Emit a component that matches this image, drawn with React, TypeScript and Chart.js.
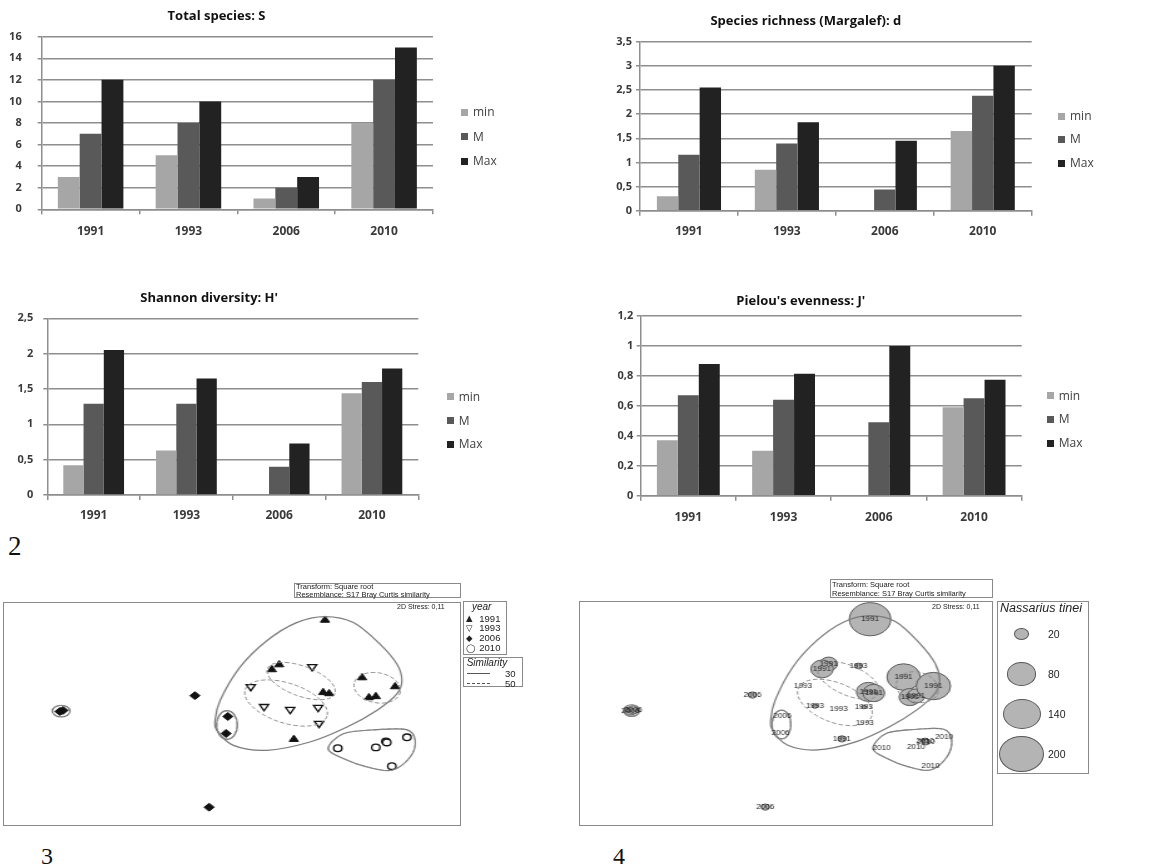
import React, { useEffect, useRef } from 'react';
import { Chart, registerables } from 'chart.js';

Chart.register(...registerables);
Chart.defaults.font.family = '"Open Sans", "Liberation Sans", sans-serif';

// ---------------- Bar chart data ----------------
const CATEGORIES = ['1991', '1993', '2006', '2010'];
const SERIES_NAMES = ['min', 'M', 'Max'];
const SERIES_COLORS = ['#a6a6a6', '#595959', '#222222'];

const S_MIN = [3, 5, 1, 8];
const S_M = [7, 8, 2, 12];
const S_MAX = [12, 10, 3, 15];

const D_MIN = [0.3, 0.85, 0, 1.65];
const D_M = [1.16, 1.39, 0.44, 2.38];
const D_MAX = [2.55, 1.83, 1.45, 3.0];

const H_MIN = [0.42, 0.63, 0, 1.44];
const H_M = [1.29, 1.29, 0.4, 1.6];
const H_MAX = [2.05, 1.65, 0.73, 1.79];

const J_MIN = [0.37, 0.3, 0, 0.59];
const J_M = [0.67, 0.64, 0.49, 0.65];
const J_MAX = [0.88, 0.815, 1.0, 0.775];

// ---------------- MDS data (arbitrary ordination units 0..100) ----------------
const MDS_YEARS = ['1991', '1993', '2006', '2010'];
const X_1991 = [70.3, 60.3, 58.7, 69.9, 71.2, 78.4, 79.9, 81.4, 85.6, 63.5];
const Y_1991 = [91.9, 72.0, 69.8, 59.6, 59.1, 66.2, 57.3, 57.8, 62.2, 38.7];
const X_1993 = [67.5, 54.1, 57.0, 62.7, 68.8, 69.0];
const Y_1993 = [71.1, 62.2, 53.3, 52.0, 52.9, 45.8];
const X_2006 = [41.9, 49.1, 48.7, 45.0, 12.4, 13.1];
const Y_2006 = [58.2, 48.9, 41.3, 8.4, 51.1, 51.6];
const X_2010 = [73.1, 81.4, 83.6, 83.8, 88.2, 84.9];
const Y_2010 = [34.7, 35.1, 37.8, 37.3, 39.6, 26.7];

// Nassarius tinei abundances per sample
const N_1991 = [165, 29, 48, 55, 45, 106, 44, 30, 113, 6];
const N_1993 = [5, 0, 3, 0, 2, 0];
const N_2006 = [6, 0, 0, 6, 10, 10];
const N_2010 = [0, 0, 5, 5, 0, 0];
const BUBBLE_LEGEND = [20, 80, 140, 200];

// Similarity outlines (30% solid hulls)
const HULL_BIG_X = [70.3, 76.5, 82.3, 86.0, 87.1, 86.0, 81.6, 75.0, 67.0, 57.6, 50.3, 46.7, 46.3, 47.4, 51.7, 57.6, 64.1];
const HULL_BIG_Y = [93.5, 90.8, 81.2, 72.3, 64.9, 59.0, 51.6, 44.1, 37.5, 33.8, 36.0, 42.7, 47.1, 56.0, 70.8, 82.7, 90.8];
const HULL_2010_X = [71.0, 74.3, 81.6, 88.1, 90.0, 88.9, 84.9, 79.4, 74.3];
const HULL_2010_Y = [34.5, 41.2, 43.0, 43.0, 38.2, 30.8, 24.9, 26.4, 30.1];
// Ellipse groups: [cx, cy, ux, uy, vx, vy] (centre + conjugate semi-axes)
const ELLIPSES_50 = [
  [65.1, 64.7, 7.38, -5.49, -1.11, -6.29],
  [61.8, 54.9, 8.93, -5.89, -1.33, -8.48],
  [81.7, 61.7, 5.04, -1.83, -0.57, -6.6],
  [48.9, 45.1, 2.18, 0, 0, 6.25],
  [12.7, 51.3, 1.86, 0, 0, 2.46],
];
const ELLIPSES_30 = [
  [48.9, 45.1, 2.3, 0, 0, 6.4],
  [12.7, 51.3, 1.95, 0, 0, 2.6],
];

const GRID = '#8e8e8e';
const TICK = '#3a3a3a';

const bubbleR = (v: number) => 1.29 * Math.sqrt(v);
const fmt = (v: any) => String(Math.round(Number(v) * 1000) / 1000).replace('.', ',');

type BarSpec = {
  left: number; top: number; width: number; height: number;
  area: [number, number, number, number];
  title: string; titleY: number;
  series: number[][]; yMax: number; yStep: number; yPad: number; xPad: number; cat: number;
  legendX: number; legendYs: number[];
};

const SPECS: BarSpec[] = [
  { left: 0, top: 0, width: 516, height: 245, area: [41.7, 433, 36.7, 209.3], title: 'Total species: S', titleY: 16.7,
    series: [S_MIN, S_M, S_MAX], yMax: 16, yStep: 2, yPad: 16, xPad: 10.2, cat: 0.67, legendX: 461, legendYs: [112.3, 136.7, 161] },
  { left: 580, top: 0, width: 543, height: 245, area: [60, 451.7, 41.7, 210.7], title: 'Species richness (Margalef): d', titleY: 21.7,
    series: [D_MIN, D_M, D_MAX], yMax: 3.5, yStep: 0.5, yPad: 4, xPad: 8.8, cat: 0.655, legendX: 1058, legendYs: [116, 139.3, 163.3] },
  { left: 0, top: 270, width: 506, height: 260, area: [47.3, 418.3, 48.3, 225], title: "Shannon diversity: H'", titleY: 28.3,
    series: [H_MIN, H_M, H_MAX], yMax: 2.5, yStep: 0.5, yPad: 10, xPad: 8.8, cat: 0.655, legendX: 446.7, legendYs: [396.7, 420.7, 444] },
  { left: 580, top: 270, width: 537, height: 260, area: [60.7, 441.7, 46, 225.7], title: "Pielou's evenness: J'", titleY: 31.7,
    series: [J_MIN, J_M, J_MAX], yMax: 1.2, yStep: 0.2, yPad: 3.4, xPad: 9.4, cat: 0.66, legendX: 1046.7, legendYs: [395.7, 419.3, 443.3] },
];

function BarChart({ spec }: { spec: BarSpec }) {
  const ref = useRef<HTMLCanvasElement>(null);
  useEffect(() => {
    const [L, R, T, B] = spec.area;
    const pt = spec.titleY - 7.8;
    const chart = new Chart(ref.current as HTMLCanvasElement, {
      type: 'bar',
      data: {
        labels: CATEGORIES,
        datasets: spec.series.map((d, i) => ({
          label: SERIES_NAMES[i], data: d, backgroundColor: SERIES_COLORS[i], borderWidth: 0,
          categoryPercentage: spec.cat, barPercentage: 1,
        })),
      },
      options: {
        responsive: false, animation: false, events: [],
        layout: { padding: { left: 0, right: spec.width - R, top: 0, bottom: 0 } },
        plugins: {
          legend: { display: false }, tooltip: { enabled: false },
          title: {
            display: true, text: spec.title, color: '#111',
            font: { size: 13, weight: 'bold', lineHeight: 1.2 },
            padding: { top: pt, bottom: T - pt - 15.6 },
          },
        },
        scales: {
          x: {
            grid: { display: true, drawOnChartArea: false, drawTicks: true, tickLength: 5, color: GRID, lineWidth: 1.5, offset: true },
            border: { display: true, color: GRID, width: 1.5 },
            ticks: { color: TICK, font: { size: 12, weight: 'bold' }, padding: spec.xPad },
            afterFit: (s: any) => { s.height = spec.height - B; },
          },
          y: {
            min: 0, max: spec.yMax,
            grid: { color: GRID, lineWidth: 1.5, tickLength: 4, drawTicks: true },
            border: { display: true, color: GRID, width: 1.5 },
            ticks: { stepSize: spec.yStep, color: TICK, font: { size: 11, weight: 'bold' }, padding: spec.yPad, callback: (v: any) => fmt(v) },
            afterFit: (s: any) => { s.width = L; },
          },
        },
      } as any,
    });
    return () => chart.destroy();
  }, []);
  return (
    <>
      <canvas ref={ref} width={spec.width} height={spec.height}
        style={{ position: 'absolute', left: spec.left, top: spec.top, width: spec.width, height: spec.height }} />
      {SERIES_NAMES.map((n, i) => (
        <div key={n + 's'} style={{ position: 'absolute', left: spec.legendX, top: spec.legendYs[i] - 3.5, width: 7, height: 7, background: SERIES_COLORS[i] }} />
      ))}
      {SERIES_NAMES.map((n, i) => (
        <div key={n + 't'} style={{ position: 'absolute', left: spec.legendX + 12, top: spec.legendYs[i] - 9, height: 18, lineHeight: '18px', font: '12px "Open Sans", sans-serif', color: '#404040', whiteSpace: 'nowrap' }}>{n}</div>
      ))}
    </>
  );
}

function closedSpline(ctx: CanvasRenderingContext2D, pts: number[][]) {
  const n = pts.length;
  ctx.moveTo(pts[0][0], pts[0][1]);
  for (let i = 0; i < n; i++) {
    const p0 = pts[(i - 1 + n) % n], p1 = pts[i], p2 = pts[(i + 1) % n], p3 = pts[(i + 2) % n];
    ctx.bezierCurveTo(
      p1[0] + (p2[0] - p0[0]) / 6, p1[1] + (p2[1] - p0[1]) / 6,
      p2[0] - (p3[0] - p1[0]) / 6, p2[1] - (p3[1] - p1[1]) / 6,
      p2[0], p2[1]);
  }
  ctx.closePath();
}

const outlinePlugin = {
  id: 'similarityOutlines',
  afterDatasetsDraw(chart: any) {
    const { ctx } = chart;
    const x = chart.scales.x, y = chart.scales.y;
    const sx = (x.getPixelForValue(100) - x.getPixelForValue(0)) / 100;
    const sy = (y.getPixelForValue(100) - y.getPixelForValue(0)) / 100;
    const hull = (xs: number[], ys: number[], dashed: boolean) => {
      ctx.beginPath();
      closedSpline(ctx, xs.map((v, i) => [x.getPixelForValue(v), y.getPixelForValue(ys[i])]));
      ctx.setLineDash(dashed ? [3.5, 2] : []);
      ctx.strokeStyle = dashed ? '#8c8c8c' : '#7a7a7a';
      ctx.lineWidth = dashed ? 1 : 1.2;
      ctx.stroke();
    };
    const ell = (e: number[], dashed: boolean) => {
      const cx = x.getPixelForValue(e[0]), cy = y.getPixelForValue(e[1]);
      ctx.save();
      ctx.transform(e[2] * sx, e[3] * sy, e[4] * sx, e[5] * sy, cx, cy);
      ctx.beginPath();
      ctx.arc(0, 0, 1, 0, Math.PI * 2);
      ctx.restore();
      ctx.setLineDash(dashed ? [3.5, 2] : []);
      ctx.strokeStyle = dashed ? '#8c8c8c' : '#7a7a7a';
      ctx.lineWidth = dashed ? 1 : 1.2;
      ctx.stroke();
    };
    ctx.save();
    hull(HULL_BIG_X, HULL_BIG_Y, false);
    hull(HULL_2010_X, HULL_2010_Y, false);
    hull(HULL_2010_X, HULL_2010_Y, true);
    ELLIPSES_30.forEach((e) => ell(e, false));
    ELLIPSES_50.forEach((e) => ell(e, true));
    ctx.restore();
  },
};

const labelPlugin = {
  id: 'yearLabels',
  afterDatasetsDraw(chart: any) {
    const { ctx } = chart;
    ctx.save();
    ctx.font = '6.5px "Liberation Sans", sans-serif';
    ctx.fillStyle = '#1a1a1a';
    ctx.textAlign = 'center';
    ctx.textBaseline = 'middle';
    chart.data.datasets.forEach((ds: any, i: number) => {
      chart.getDatasetMeta(i).data.forEach((el: any) => ctx.fillText(ds.label, el.x, el.y));
    });
    ctx.restore();
  },
};

const XS = [X_1991, X_1993, X_2006, X_2010];
const YS = [Y_1991, Y_1993, Y_2006, Y_2010];
const NS = [N_1991, N_1993, N_2006, N_2010];

function MdsChart({ bubble, left, top, width, height, inner }: { bubble: boolean; left: number; top: number; width: number; height: number; inner: number }) {
  const ref = useRef<HTMLCanvasElement>(null);
  useEffect(() => {
    const scales = {
      x: { type: 'linear', min: 0, max: 100, display: false },
      y: { type: 'linear', min: 0, max: 100, display: false },
    };
    let config: any;
    if (!bubble) {
      const styles = [
        { pointStyle: 'triangle', pointRotation: 0, pointBackgroundColor: '#111', pointBorderColor: '#111', pointBorderWidth: 1, pointRadius: 4.2 },
        { pointStyle: 'triangle', pointRotation: 180, pointBackgroundColor: '#fff', pointBorderColor: '#111', pointBorderWidth: 1.3, pointRadius: 4.2 },
        { pointStyle: 'rectRot', pointRotation: 0, pointBackgroundColor: '#111', pointBorderColor: '#111', pointBorderWidth: 1, pointRadius: 4 },
        { pointStyle: 'circle', pointRotation: 0, pointBackgroundColor: '#fff', pointBorderColor: '#111', pointBorderWidth: 1.3, pointRadius: 3.3 },
      ];
      config = {
        type: 'scatter',
        data: {
          datasets: MDS_YEARS.map((yr, i) => ({
            label: yr, data: XS[i].map((v, j) => ({ x: v, y: YS[i][j] })), showLine: false, ...styles[i],
          })),
        },
        plugins: [outlinePlugin],
      };
    } else {
      config = {
        type: 'bubble',
        data: {
          datasets: MDS_YEARS.map((yr, i) => ({
            label: yr, data: XS[i].map((v, j) => ({ x: v, y: YS[i][j], r: bubbleR(NS[i][j]) })),
            backgroundColor: '#b4b4b4', borderColor: '#5a5a5a', borderWidth: 1,
          })),
        },
        plugins: [outlinePlugin, labelPlugin],
      };
    }
    config.options = {
      responsive: false, animation: false, events: [],
      layout: { padding: 0, autoPadding: false },
      plugins: { legend: { display: false }, tooltip: { enabled: false }, title: { display: false } },
      scales,
    };
    const chart = new Chart(ref.current as HTMLCanvasElement, config);
    return () => chart.destroy();
  }, []);
  return (
    <>
      <canvas ref={ref} width={inner} height={height}
        style={{ position: 'absolute', left, top, width, height }} />
      <div style={{ position: 'absolute', left, top, width, height, border: '1.5px solid #8a8a8a', boxSizing: 'border-box', pointerEvents: 'none' }} />
    </>
  );
}

function Txt({ x, y, size, children, italic, color, family }: any) {
  return (
    <div style={{
      position: 'absolute', left: x, top: y - size * 0.6, lineHeight: `${size * 1.2}px`, fontSize: size,
      fontStyle: italic ? 'italic' : 'normal', color: color || '#222', whiteSpace: 'nowrap',
      fontFamily: family || '"Liberation Sans", Arial, sans-serif',
    }}>{children}</div>
  );
}

function Box({ x, y, w, h }: any) {
  return <div style={{ position: 'absolute', left: x, top: y, width: w, height: h, border: '1.2px solid #8a8a8a', boxSizing: 'border-box' }} />;
}

const YEAR_SYMBOLS = ['▲', '▽', '◆', '◯'];
const YEAR_ROW_Y = [618.3, 627.7, 637.7, 647.7];
const LEGEND_ROW_Y = [634, 674, 714, 754];

export default function App() {
  return (
    <div style={{ position: 'absolute', left: 0, top: 0, width: 1153, height: 868, background: '#fff', overflow: 'hidden' }}>
      {SPECS.map((s, i) => <BarChart key={i} spec={s} />)}

      <Txt x={8} y={546} size={27} family='"Liberation Serif", "DejaVu Serif", serif' color="#111">2</Txt>
      <Txt x={41} y={856} size={24} family='"Liberation Serif", "DejaVu Serif", serif' color="#111">3</Txt>
      <Txt x={613} y={856} size={24} family='"Liberation Serif", "DejaVu Serif", serif' color="#111">4</Txt>

      {/* Plot 3 */}
      <MdsChart bubble={false} left={3} top={602} width={458} height={224} inner={366} />
      <Box x={294} y={582.7} w={166.7} h={15.6} />
      <Txt x={296} y={586.5} size={7.5}>Transform: Square root</Txt>
      <Txt x={296} y={594.3} size={7.5}>Resemblance: S17 Bray Curtis similarity</Txt>
      <Txt x={397} y={606.7} size={7}>2D Stress: 0,11</Txt>
      <Box x={463.3} y={601} w={43.4} h={54} />
      <Txt x={472} y={607.3} size={10} italic>year</Txt>
      {MDS_YEARS.map((yr, i) => (
        <React.Fragment key={yr}>
          <Txt x={466} y={YEAR_ROW_Y[i]} size={8.5} family='"DejaVu Sans", sans-serif'>{YEAR_SYMBOLS[i]}</Txt>
          <Txt x={479.3} y={YEAR_ROW_Y[i]} size={9.5}>{yr}</Txt>
        </React.Fragment>
      ))}
      <Box x={463.3} y={656.7} w={60} h={30} />
      <Txt x={466.7} y={663.3} size={10} italic>Similarity</Txt>
      <div style={{ position: 'absolute', left: 467.3, top: 673.2, width: 23, borderTop: '1px solid #555' }} />
      <div style={{ position: 'absolute', left: 467.3, top: 682.8, width: 23, borderTop: '1px dashed #555' }} />
      <Txt x={505} y={673.7} size={9.5}>30</Txt>
      <Txt x={505} y={683.3} size={9.5}>50</Txt>

      {/* Plot 4 */}
      <MdsChart bubble={true} left={579} top={601} width={414} height={225} inner={331} />
      <Box x={830} y={579.3} w={163.3} h={18.4} />
      <Txt x={832} y={584} size={7.5}>Transform: Square root</Txt>
      <Txt x={832} y={593} size={7.5}>Resemblance: S17 Bray Curtis similarity</Txt>
      <Txt x={932} y={606.7} size={7}>2D Stress: 0,11</Txt>
      <Box x={996.7} y={601} w={92.6} h={173} />
      <Txt x={1000} y={608} size={12.5} italic>Nassarius tinei</Txt>
      {BUBBLE_LEGEND.map((v, i) => {
        const r = bubbleR(v);
        return (
          <React.Fragment key={v}>
            <div style={{ position: 'absolute', left: 1021.7 - r * 1.25, top: LEGEND_ROW_Y[i] - r, width: 2 * r * 1.25, height: 2 * r, borderRadius: '50%', background: '#b4b4b4', border: '1px solid #5a5a5a', boxSizing: 'border-box' }} />
            <Txt x={1048} y={LEGEND_ROW_Y[i]} size={10.5}>{v}</Txt>
          </React.Fragment>
        );
      })}
    </div>
  );
}
